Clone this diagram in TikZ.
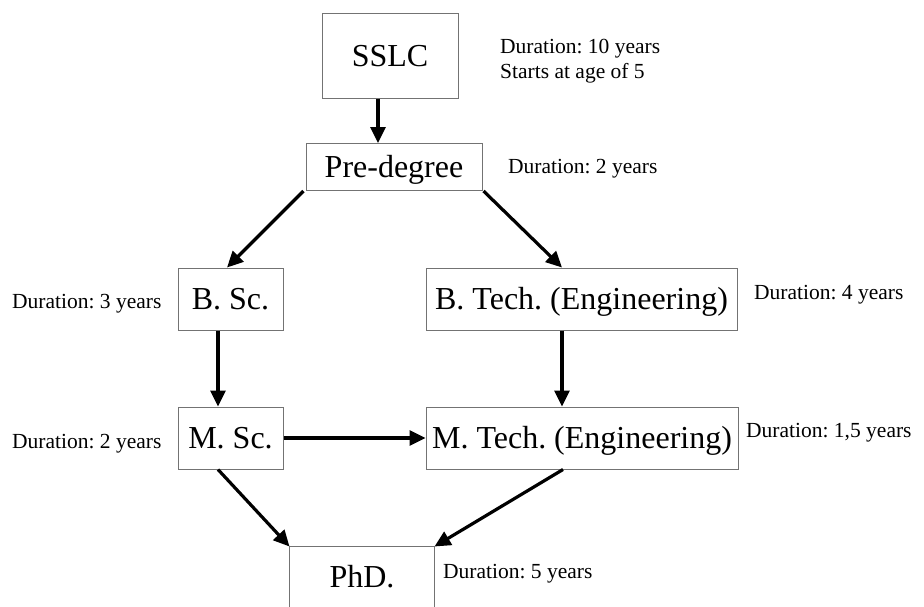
\documentclass[tikz,border=0pt]{standalone}
\usepackage{fontspec}
\setmainfont{Liberation Serif}
\frenchspacing
\usetikzlibrary{arrows.meta}
\begin{document}
\begin{tikzpicture}[x=1pt,y=-1pt,
  stage/.style={draw=black!55, line width=1pt, rectangle, inner sep=0pt,
    text height=21pt, text depth=0pt, font=\fontsize{32}{38}\selectfont},
  note/.style={anchor=base west, inner sep=0pt, font=\fontsize{21.5}{25}\selectfont},
  flow/.style={line width=3.2pt, -{Triangle[length=16pt,width=15pt]}}]
\useasboundingbox (0,0) rectangle (924,606);

% stages
\node[stage, minimum width=136pt, minimum height=85pt] (sslc) at (390,55.5) {SSLC};
\node[stage, minimum width=176pt, minimum height=47pt] (pre) at (394,167) {Pre-degree};
\node[stage, minimum width=105pt, minimum height=62pt] (bsc) at (230.5,299) {B. Sc.};
\node[stage, minimum width=311pt, minimum height=62pt] (btech) at (581.5,299) {B. Tech. (Engineering)};
\node[stage, minimum width=105pt, minimum height=62pt] (msc) at (230.5,438) {M. Sc.};
\node[stage, minimum width=312pt, minimum height=62pt] (mtech) at (582,438) {M. Tech. (Engineering)};
\node[stage, draw=none, minimum width=144pt, minimum height=59pt] (phd) at (362,576.5) {PhD.};
\draw[draw=black!55, line width=1pt]
  (phd.south west) -- (phd.north west) -- (phd.north east) -- (phd.south east);

% durations
\node[note] (dsslc) at (500,53) {Duration: 10 years};
\node[note] (agesslc) at (500,78) {Starts at age of 5};
\node[note] (dpre) at (508,173) {Duration: 2 years};
\node[note] (dbsc) at (12,308) {Duration: 3 years};
\node[note] (dbtech) at (754,299) {Duration: 4 years};
\node[note] (dmsc) at (12,448) {Duration: 2 years};
\node[note] (dmtech) at (746,437) {Duration: 1,5 years};
\node[note] (dphd) at (443,578) {Duration: 5 years};

% transitions
\draw[flow] ([xshift=-12pt]sslc.south) -- ([xshift=-12pt]sslc.south |- pre.north);
\draw[flow] ([xshift=-2pt]pre.south west) -- ([xshift=-3.5pt]bsc.north);
\draw[flow] ([xshift=1pt]pre.south east) -- ([xshift=-19.5pt]btech.north);
\draw[flow] ([xshift=-12.5pt]bsc.south) -- ([xshift=-12.5pt]msc.north);
\draw[flow] ([xshift=-19.5pt]btech.south) -- ([xshift=-19.5pt]btech.south |- mtech.north);
\draw[flow] (msc.east) -- (mtech.west);
\draw[flow] ([xshift=-12.5pt]msc.south) -- (phd.north west);
\draw[flow] ([xshift=-19pt]mtech.south) -- (phd.north east);
\end{tikzpicture}
\end{document}
